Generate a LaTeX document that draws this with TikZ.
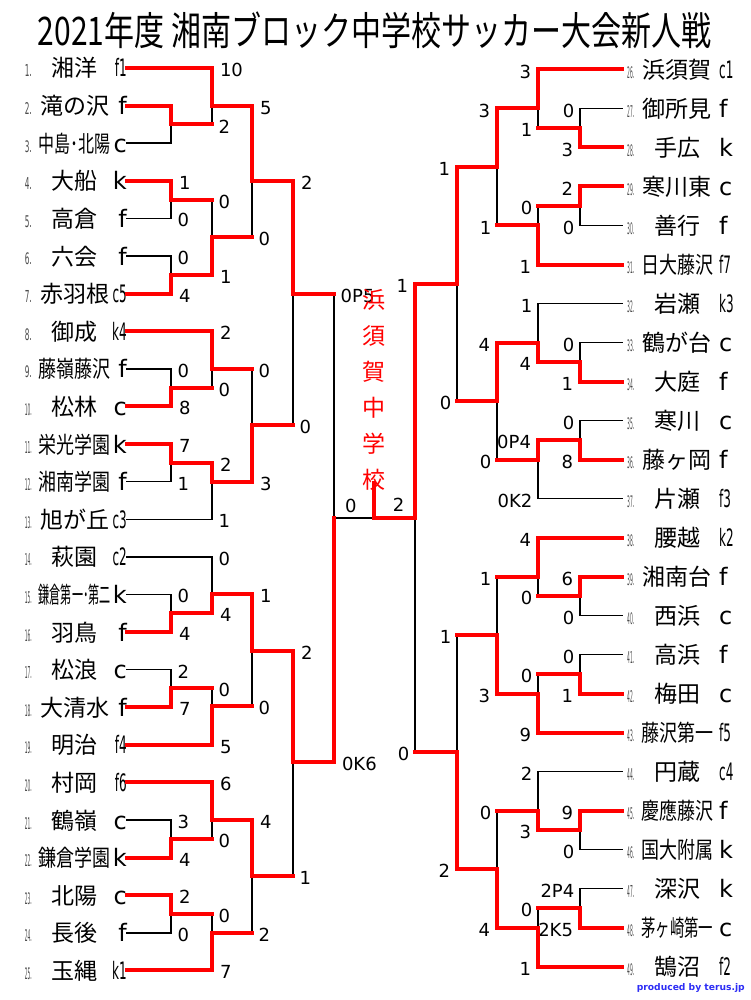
\documentclass[tikz,border=0pt]{standalone}
\usepackage{fontspec}
\usepackage{graphicx}
\usepackage{xcolor}
\usepackage{tikz}
\setmainfont{DejaVu Sans}
\newfontfamily\jp{Noto Sans CJK JP}
\definecolor{credit}{RGB}{45,45,245}

\newcommand{\scorefont}{\fontsize{18}{18}\selectfont}
\newcommand{\tnum}[1]{\textcolor{black!70}{\resizebox*{7pt}{12pt}{#1.}}}
\newcommand{\seed}[1]{\scalebox{0.5}[1]{#1}}
\newsavebox{\namebox}
\newcommand{\fitname}[1]{\sbox{\namebox}{\jp\fontsize{23}{23}\selectfont #1}%
  \ifdim\wd\namebox>72pt \resizebox{72pt}{\height}{\usebox{\namebox}}\else\usebox{\namebox}\fi}
\newcommand{\leftentry}[3]{\makebox[17pt][l]{\hspace*{3pt}\tnum{#1}}\makebox[72pt]{\fitname{#2}}\makebox[16pt][r]{#3}}
\newcommand{\rightentry}[3]{\hspace*{5pt}\makebox[14pt][l]{\tnum{#1}}\makebox[72pt]{\fitname{#2}}\hspace*{6pt}\makebox[16pt][l]{#3}}

\begin{document}
\begin{tikzpicture}[
    x=1pt, y=-1pt,
    win/.style={draw=red, line width=4pt, line cap=rect},
    lose/.style={draw=black, line width=1.4pt, line cap=rect},
    lteam/.style={anchor=east, inner sep=0pt, text height=20pt, text depth=2pt, font=\fontsize{24}{24}\selectfont},
    rteam/.style={anchor=west, inner sep=0pt, text height=20pt, text depth=2pt, font=\fontsize{24}{24}\selectfont},
    lscore/.style={pos=0.5, anchor=west, inner sep=2pt, xshift=4pt, yshift=-2pt, font=\scorefont},
    rscore/.style={pos=0.5, anchor=east, inner sep=2pt, xshift=-3pt, yshift=-2pt, font=\scorefont},
    fscore/.style={anchor=south, inner sep=2pt, yshift=3pt, font=\scorefont},
    champ/.style={text=red, align=center, inner sep=0pt, font=\jp\fontsize{23}{36}\selectfont}
]
\fill[white] (0,0) rectangle (750,1000);
\useasboundingbox (0,0) rectangle (750,1000);

% Title
\node (title) at (375,30) {\resizebox*{674pt}{37pt}{\jp 2021年度 湘南ブロック中学校サッカー大会新人戦}};

% Left side teams
\node[lteam] (t1) at (127,68) {\leftentry{1}{湘洋}{\seed{f1}}};
\node[lteam] (t2) at (127,105.6) {\leftentry{2}{滝の沢}{f}};
\node[lteam] (t3) at (127,143.2) {\leftentry{3}{中島･北陽}{c}};
\node[lteam] (t4) at (127,180.8) {\leftentry{4}{大船}{k}};
\node[lteam] (t5) at (127,218.4) {\leftentry{5}{高倉}{f}};
\node[lteam] (t6) at (127,256) {\leftentry{6}{六会}{f}};
\node[lteam] (t7) at (127,293.6) {\leftentry{7}{赤羽根}{\seed{c5}}};
\node[lteam] (t8) at (127,331.2) {\leftentry{8}{御成}{\seed{k4}}};
\node[lteam] (t9) at (127,368.8) {\leftentry{9}{藤嶺藤沢}{f}};
\node[lteam] (t10) at (127,406.4) {\leftentry{10}{松林}{c}};
\node[lteam] (t11) at (127,444) {\leftentry{11}{栄光学園}{k}};
\node[lteam] (t12) at (127,481.6) {\leftentry{12}{湘南学園}{f}};
\node[lteam] (t13) at (127,519.2) {\leftentry{13}{旭が丘}{\seed{c3}}};
\node[lteam] (t14) at (127,556.8) {\leftentry{14}{萩園}{\seed{c2}}};
\node[lteam] (t15) at (127,594.4) {\leftentry{15}{鎌倉第一･第二}{k}};
\node[lteam] (t16) at (127,632) {\leftentry{16}{羽鳥}{f}};
\node[lteam] (t17) at (127,669.6) {\leftentry{17}{松浪}{c}};
\node[lteam] (t18) at (127,707.2) {\leftentry{18}{大清水}{f}};
\node[lteam] (t19) at (127,744.8) {\leftentry{19}{明治}{\seed{f4}}};
\node[lteam] (t20) at (127,782.4) {\leftentry{20}{村岡}{\seed{f6}}};
\node[lteam] (t21) at (127,820) {\leftentry{21}{鶴嶺}{c}};
\node[lteam] (t22) at (127,857.6) {\leftentry{22}{鎌倉学園}{k}};
\node[lteam] (t23) at (127,895.2) {\leftentry{23}{北陽}{c}};
\node[lteam] (t24) at (127,932.8) {\leftentry{24}{長後}{f}};
\node[lteam] (t25) at (127,970.4) {\leftentry{25}{玉縄}{\seed{k1}}};

% Right side teams
\node[rteam] (t26) at (622,69.5) {\rightentry{26}{浜須賀}{\seed{c1}}};
\node[rteam] (t27) at (622,108.5) {\rightentry{27}{御所見}{f}};
\node[rteam] (t28) at (622,147.5) {\rightentry{28}{手広}{k}};
\node[rteam] (t29) at (622,186.5) {\rightentry{29}{寒川東}{c}};
\node[rteam] (t30) at (622,225.5) {\rightentry{30}{善行}{f}};
\node[rteam] (t31) at (622,264.5) {\rightentry{31}{日大藤沢}{\seed{f7}}};
\node[rteam] (t32) at (622,303.5) {\rightentry{32}{岩瀬}{\seed{k3}}};
\node[rteam] (t33) at (622,342.5) {\rightentry{33}{鶴が台}{c}};
\node[rteam] (t34) at (622,381.5) {\rightentry{34}{大庭}{f}};
\node[rteam] (t35) at (622,420.5) {\rightentry{35}{寒川}{c}};
\node[rteam] (t36) at (622,459.5) {\rightentry{36}{藤ヶ岡}{f}};
\node[rteam] (t37) at (622,498.5) {\rightentry{37}{片瀬}{\seed{f3}}};
\node[rteam] (t38) at (622,537.5) {\rightentry{38}{腰越}{\seed{k2}}};
\node[rteam] (t39) at (622,576.5) {\rightentry{39}{湘南台}{f}};
\node[rteam] (t40) at (622,615.5) {\rightentry{40}{西浜}{c}};
\node[rteam] (t41) at (622,654.5) {\rightentry{41}{高浜}{f}};
\node[rteam] (t42) at (622,693.5) {\rightentry{42}{梅田}{c}};
\node[rteam] (t43) at (622,732.5) {\rightentry{43}{藤沢第一}{\seed{f5}}};
\node[rteam] (t44) at (622,771.5) {\rightentry{44}{円蔵}{\seed{c4}}};
\node[rteam] (t45) at (622,810.5) {\rightentry{45}{慶應藤沢}{f}};
\node[rteam] (t46) at (622,849.5) {\rightentry{46}{国大附属}{k}};
\node[rteam] (t47) at (622,888.5) {\rightentry{47}{深沢}{k}};
\node[rteam] (t48) at (622,927.5) {\rightentry{48}{茅ヶ崎第一}{c}};
\node[rteam] (t49) at (622,966.5) {\rightentry{49}{鵠沼}{\seed{f2}}};

% Junctions - left
\coordinate (a23) at (171,124.4);  \coordinate (a1) at (212,105.6);
\coordinate (a45) at (171,199.6);  \coordinate (a67) at (171,274.8);
\coordinate (a47) at (212,237.2);  \coordinate (a17) at (252,180.8);
\coordinate (b910) at (171,387.6); \coordinate (b810) at (212,368.8);
\coordinate (b1112) at (171,462.8); \coordinate (b1113) at (212,481.6);
\coordinate (b813) at (252,425.2); \coordinate (ab) at (293,293.6);
\coordinate (c1516) at (171,613.2); \coordinate (c1416) at (212,594.4);
\coordinate (c1718) at (171,688.4); \coordinate (c1719) at (212,706);
\coordinate (c1419) at (252,650.8);
\coordinate (d2122) at (171,838.8); \coordinate (d2022) at (212,820);
\coordinate (d2324) at (171,914);  \coordinate (d2325) at (212,932.8);
\coordinate (d2025) at (252,876.4); \coordinate (cd) at (293,762);
\coordinate (lsemi) at (334,518);

% Junctions - right
\coordinate (e2728) at (580,128);  \coordinate (e2628) at (538,108.5);
\coordinate (e2930) at (580,206);  \coordinate (e2931) at (538,225.5);
\coordinate (e2631) at (497,167);
\coordinate (f3334) at (580,362);  \coordinate (f3234) at (538,342.5);
\coordinate (f3536) at (580,440);  \coordinate (f3537) at (538,459.5);
\coordinate (f3237) at (497,401);  \coordinate (ef) at (457,284);
\coordinate (g3940) at (580,596);  \coordinate (g3840) at (538,576.5);
\coordinate (g4142) at (580,674);  \coordinate (g4143) at (538,693.5);
\coordinate (g3843) at (497,635);
\coordinate (h4546) at (580,830);  \coordinate (h4446) at (538,810.5);
\coordinate (h4748) at (580,908);  \coordinate (h4749) at (538,927.5);
\coordinate (h4449) at (497,869);  \coordinate (gh) at (457,752);
\coordinate (rsemi) at (415,518);
\coordinate (final) at (374,518);
\coordinate (champfoot) at (374,483);

% Losers - left (black)
\draw[lose] (t3.east) -| (a23);
\draw[lose] (a23) -| (a1) node[lscore] (a1l) {2};
\draw[lose] (t5.east) -| (a45) node[lscore] (a45l) {0};
\draw[lose] (t6.east) -| (a67) node[lscore] (a67l) {0};
\draw[lose] (a45) -| (a47) node[lscore] (a47l) {0};
\draw[lose] (a47) -| (a17) node[lscore] (a17l) {0};
\draw[lose] (t9.east) -| (b910) node[lscore] (b910l) {0};
\draw[lose] (b910) -| (b810) node[lscore] (b810l) {0};
\draw[lose] (t12.east) -| (b1112) node[lscore] (b1112l) {1};
\draw[lose] (t13.east) -| (b1113) node[lscore] (b1113l) {1};
\draw[lose] (b810) -| (b813) node[lscore] (b813l) {0};
\draw[lose] (b813) -| (ab) node[lscore] (abl) {0};
\draw[lose] (t15.east) -| (c1516) node[lscore] (c1516l) {0};
\draw[lose] (t14.east) -| (c1416) node[lscore] (c1416l) {0};
\draw[lose] (t17.east) -| (c1718) node[lscore] (c1718l) {2};
\draw[lose] (c1718) -| (c1719) node[lscore] (c1719l) {0};
\draw[lose] (c1719) -| (c1419) node[lscore] (c1419l) {0};
\draw[lose] (t21.east) -| (d2122) node[lscore] (d2122l) {3};
\draw[lose] (d2122) -| (d2022) node[lscore] (d2022l) {0};
\draw[lose] (t24.east) -| (d2324) node[lscore] (d2324l) {0};
\draw[lose] (d2324) -| (d2325) node[lscore] (d2325l) {0};
\draw[lose] (d2325) -| (d2025) node[lscore] (d2025l) {2};
\draw[lose] (d2025) -| (cd) node[lscore] (cdl) {1};
\draw[lose] (ab) -| (lsemi) node[lscore] (lsemil) {0P5};

% Losers - right (black)
\draw[lose] (t27.west) -| (e2728) node[rscore] (e2728l) {0};
\draw[lose] (e2728) -| (e2628) node[rscore] (e2628l) {1};
\draw[lose] (t30.west) -| (e2930) node[rscore] (e2930l) {0};
\draw[lose] (e2930) -| (e2931) node[rscore] (e2931l) {0};
\draw[lose] (e2931) -| (e2631) node[rscore] (e2631l) {1};
\draw[lose] (t33.west) -| (f3334) node[rscore] (f3334l) {0};
\draw[lose] (t32.west) -| (f3234) node[rscore] (f3234l) {1};
\draw[lose] (t35.west) -| (f3536) node[rscore] (f3536l) {0};
\draw[lose] (t37.west) -| (f3537) node[rscore] (f3537l) {0K2};
\draw[lose] (f3537) -| (f3237) node[rscore] (f3237l) {0};
\draw[lose] (f3237) -| (ef) node[rscore] (efl) {0};
\draw[lose] (t40.west) -| (g3940) node[rscore] (g3940l) {0};
\draw[lose] (g3940) -| (g3840) node[rscore] (g3840l) {0};
\draw[lose] (t41.west) -| (g4142) node[rscore] (g4142l) {0};
\draw[lose] (g4142) -| (g4143) node[rscore] (g4143l) {0};
\draw[lose] (g3840) -| (g3843) node[rscore] (g3843l) {1};
\draw[lose] (t46.west) -| (h4546) node[rscore] (h4546l) {0};
\draw[lose] (t44.west) -| (h4446) node[rscore] (h4446l) {2};
\draw[lose] (t47.west) -| (h4748) node[rscore] (h4748l) {2P4};
\draw[lose] (h4748) -| (h4749) node[rscore] (h4749l) {0};
\draw[lose] (h4446) -| (h4449) node[rscore] (h4449l) {0};
\draw[lose] (g3843) -| (gh) node[rscore] (ghl) {1};
\draw[lose] (gh) -| (rsemi) node[rscore] (rsemil) {0};

% Final
\draw[lose] (lsemi) -- (final) node[pos=0.42, fscore] (fin0) {0};

% Winners - left (red)
\draw[win] (t2.east) -| (a23);
\draw[win] (t1.east) -| (a1) node[lscore] (a1w) {10};
\draw[win] (a23) -- (a23 -| a1);
\draw[win] (t4.east) -| (a45) node[lscore] (a45w) {1};
\draw[win] (t7.east) -| (a67) node[lscore] (a67w) {4};
\draw[win] (a67) -| (a47) node[lscore] (a47w) {1};
\draw[win] (a45) -- (a45 -| a47);
\draw[win] (a1) -| (a17) node[lscore] (a17w) {5};
\draw[win] (a47) -- (a47 -| a17);
\draw[win] (t10.east) -| (b910) node[lscore] (b910w) {8};
\draw[win] (t8.east) -| (b810) node[lscore] (b810w) {2};
\draw[win] (b910) -- (b910 -| b810);
\draw[win] (t11.east) -| (b1112) node[lscore] (b1112w) {7};
\draw[win] (b1112) -| (b1113) node[lscore] (b1113w) {2};
\draw[win] (b1113) -| (b813) node[lscore] (b813w) {3};
\draw[win] (b810) -- (b810 -| b813);
\draw[win] (a17) -| (ab) node[lscore] (abw) {2};
\draw[win] (b813) -- (b813 -| ab);
\draw[win] (t16.east) -| (c1516) node[lscore] (c1516w) {4};
\draw[win] (c1516) -| (c1416) node[lscore] (c1416w) {4};
\draw[win] (t18.east) -| (c1718) node[lscore] (c1718w) {7};
\draw[win] (t19.east) -| (c1719) node[lscore] (c1719w) {5};
\draw[win] (c1718) -- (c1718 -| c1719);
\draw[win] (c1416) -| (c1419) node[lscore] (c1419w) {1};
\draw[win] (c1719) -- (c1719 -| c1419);
\draw[win] (t22.east) -| (d2122) node[lscore] (d2122w) {4};
\draw[win] (t20.east) -| (d2022) node[lscore] (d2022w) {6};
\draw[win] (d2122) -- (d2122 -| d2022);
\draw[win] (t23.east) -| (d2324) node[lscore] (d2324w) {2};
\draw[win] (t25.east) -| (d2325) node[lscore] (d2325w) {7};
\draw[win] (d2324) -- (d2324 -| d2325);
\draw[win] (d2022) -| (d2025) node[lscore] (d2025w) {4};
\draw[win] (d2325) -- (d2325 -| d2025);
\draw[win] (c1419) -| (cd) node[lscore] (cdw) {2};
\draw[win] (d2025) -- (d2025 -| cd);
\draw[win] (cd) -| (lsemi) node[lscore] (lsemiw) {0K6};
\draw[win] (ab) -- (ab -| lsemi);

% Winners - right (red)
\draw[win] (t28.west) -| (e2728) node[rscore] (e2728w) {3};
\draw[win] (t26.west) -| (e2628) node[rscore] (e2628w) {3};
\draw[win] (e2728) -- (e2728 -| e2628);
\draw[win] (t29.west) -| (e2930) node[rscore] (e2930w) {2};
\draw[win] (t31.west) -| (e2931) node[rscore] (e2931w) {1};
\draw[win] (e2930) -- (e2930 -| e2931);
\draw[win] (e2628) -| (e2631) node[rscore] (e2631w) {3};
\draw[win] (e2931) -- (e2931 -| e2631);
\draw[win] (t34.west) -| (f3334) node[rscore] (f3334w) {1};
\draw[win] (f3334) -| (f3234) node[rscore] (f3234w) {4};
\draw[win] (t36.west) -| (f3536) node[rscore] (f3536w) {8};
\draw[win] (f3536) -| (f3537) node[rscore] (f3537w) {0P4};
\draw[win] (f3234) -| (f3237) node[rscore] (f3237w) {4};
\draw[win] (f3537) -- (f3537 -| f3237);
\draw[win] (e2631) -| (ef) node[rscore] (efw) {1};
\draw[win] (f3237) -- (f3237 -| ef);
\draw[win] (t39.west) -| (g3940) node[rscore] (g3940w) {6};
\draw[win] (t38.west) -| (g3840) node[rscore] (g3840w) {4};
\draw[win] (g3940) -- (g3940 -| g3840);
\draw[win] (t42.west) -| (g4142) node[rscore] (g4142w) {1};
\draw[win] (t43.west) -| (g4143) node[rscore] (g4143w) {9};
\draw[win] (g4142) -- (g4142 -| g4143);
\draw[win] (g4143) -| (g3843) node[rscore] (g3843w) {3};
\draw[win] (g3840) -- (g3840 -| g3843);
\draw[win] (t45.west) -| (h4546) node[rscore] (h4546w) {9};
\draw[win] (h4546) -| (h4446) node[rscore] (h4446w) {3};
\draw[win] (t48.west) -| (h4748) node[rscore] (h4748w) {2K5};
\draw[win] (t49.west) -| (h4749) node[rscore] (h4749w) {1};
\draw[win] (h4748) -- (h4748 -| h4749);
\draw[win] (h4749) -| (h4449) node[rscore] (h4449w) {4};
\draw[win] (h4446) -- (h4446 -| h4449);
\draw[win] (h4449) -| (gh) node[rscore] (ghw) {2};
\draw[win] (g3843) -- (g3843 -| gh);
\draw[win] (ef) -| (rsemi) node[rscore] (rsemiw) {1};
\draw[win] (gh) -- (gh -| rsemi);

% Final and champion
\draw[win] (rsemi) -- (final) node[pos=0.4, fscore] (fin2) {2};
\draw[win] (final) -- (champfoot);
\node[champ] (champ) at (374,390) {浜\\須\\賀\\中\\学\\校};

% Credit
\node[anchor=east, inner sep=0pt, text=credit] (credit) at (745,988) {\resizebox{108pt}{!}{\bfseries produced by terus.jp}};

\end{tikzpicture}
\end{document}
